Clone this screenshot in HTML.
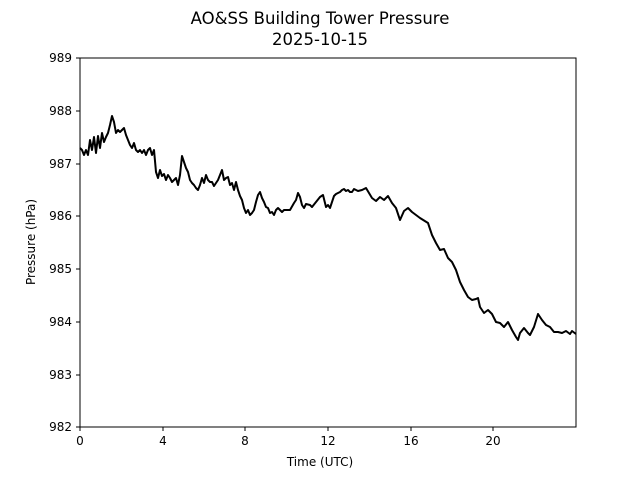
<!DOCTYPE html>
<html><head><style>body{margin:0;background:#fff}svg{display:block}text{font-family:"DejaVu Sans","Liberation Sans",sans-serif;fill:#000}</style></head><body>
<svg width="640" height="480" viewBox="0 0 640 480">
<rect width="640" height="480" fill="#fff"/>
<text x="320" y="24" font-size="16.5" text-anchor="middle">AO&amp;SS Building Tower Pressure</text>
<text x="320" y="45" font-size="16.5" text-anchor="middle">2025-10-15</text>
<polyline fill="none" stroke="#000" stroke-width="2" stroke-linejoin="round" points="80,148 82,150 84,155 86,150 88,155 90,140 92,150 94,137 96,153 98,136 100,148 102,133 104,142 106,137 108,133 110,125 112,116 114,122 116,133 118,130 120,132 122,130 124,128 126,135 128,140 130,145 132,148 134,143 136,150 138,152 140,150 142,153 144,150 146,155 148,150 150,148 152,155 154,150 156,172 158,178 160,170 162,176 164,174 166,180 168,175 170,178 172,182 174,180 176,178 178,185 180,175 182,156 184,162 186,168 188,172 190,180 192,183 194,185 196,188 198,190 200,185 202,178 204,183 206,175 208,180 210,182 212,182 214,186 216,183 218,180 222,170 224,180 226,178 228,177 230,185 232,183 234,190 236,182 238,190 240,196 242,200 244,208 246,213 248,210 250,215 252,213 254,210 256,202 258,195 260,192 262,198 264,202 266,207 268,208 270,213 272,212 274,215 276,210 278,208 280,210 282,212 284,210 286,210 290,210 294,203 296,200 298,193 300,197 302,205 304,208 306,204 310,205 312,207 316,202 320,197 323,195 326,207 328,205 330,208 332,202 334,196 336,194 338,193 340,192 342,190 344,189 346,191 348,190 350,192 352,192 354,189 358,191 362,190 366,188 372,198 376,201 380,197 384,200 388,196 392,203 396,208 400,220 404,211 408,208 412,212 416,215 420,218 428,223 432,235 436,243 440,250 444,249 448,258 452,262 456,270 460,282 464,290 468,297 472,300 476,299 478,298 480,307 484,313 488,310 492,314 496,322 500,323 504,327 508,322 512,330 516,337 518,340 520,333 524,328 528,333 530,335 534,327 538,314 542,320 546,325 550,327 554,332 558,332 562,333 566,331 570,334 572,331 576,334"/>
<rect x="80" y="58" width="496" height="369" fill="none" stroke="#000" stroke-width="1"/>
<g stroke="#000" stroke-width="1">
<line x1="80" y1="427" x2="80" y2="431"/><line x1="163" y1="427" x2="163" y2="431"/><line x1="245" y1="427" x2="245" y2="431"/><line x1="328" y1="427" x2="328" y2="431"/><line x1="411" y1="427" x2="411" y2="431"/><line x1="493" y1="427" x2="493" y2="431"/>
<line x1="76" y1="58" x2="80" y2="58"/><line x1="76" y1="111" x2="80" y2="111"/><line x1="76" y1="164" x2="80" y2="164"/><line x1="76" y1="216" x2="80" y2="216"/><line x1="76" y1="269" x2="80" y2="269"/><line x1="76" y1="322" x2="80" y2="322"/><line x1="76" y1="375" x2="80" y2="375"/><line x1="76" y1="427" x2="80" y2="427"/>
</g>
<g font-size="12" text-anchor="middle">
<text x="80" y="445">0</text><text x="163" y="445">4</text><text x="245" y="445">8</text><text x="328" y="445">12</text><text x="411" y="445">16</text><text x="493" y="445">20</text>
<text x="320" y="466">Time (UTC)</text>
</g>
<g font-size="12" text-anchor="end">
<text x="72" y="62">989</text><text x="72" y="115">988</text><text x="72" y="168">987</text><text x="72" y="220">986</text><text x="72" y="273">985</text><text x="72" y="326">984</text><text x="72" y="379">983</text><text x="72" y="431">982</text>
</g>
<text x="35" y="242" font-size="12" text-anchor="middle" transform="rotate(-90 35 242)">Pressure (hPa)</text>
</svg>
</body></html>
